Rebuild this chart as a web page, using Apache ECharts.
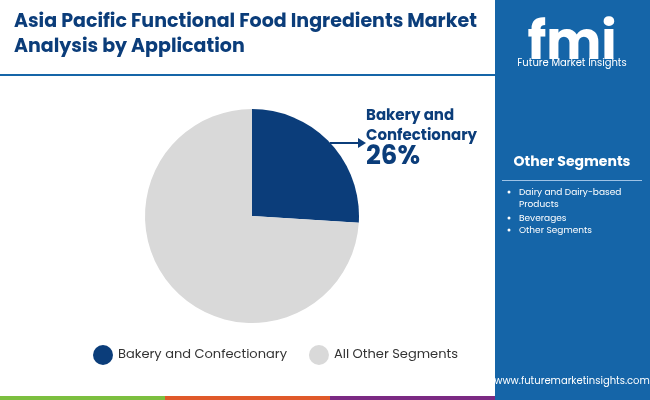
<!DOCTYPE html>
<html>
<head>
<meta charset="utf-8">
<script src="https://cdn.jsdelivr.net/npm/echarts@6/dist/echarts.min.js"></script>
<style>body{margin:0}#c{width:650px;height:400px}</style>
</head>
<body>
<div id="c"></div>
<script>
var categories = ['Bakery and Confectionary', 'All Other Segments'];
var shares = [26, 74];
var colors = ['#0b3d7a', '#d9d9d9'];
var otherSegments = ['Dairy and Dairy-based\nProducts', 'Beverages', 'Other Segments'];

var chart = echarts.init(document.getElementById('c'));
var F = 'Poppins, Roboto, sans-serif';
var gfx = [
    {type: 'rect', shape: {x: 495, y: 0, width: 155, height: 400}, style: {fill: '#1565a8'}, z: 0},
    {type: 'rect', shape: {x: 0, y: 74, width: 495, height: 2}, style: {fill: '#1565a8'}},
    {type: 'rect', shape: {x: 0, y: 396, width: 165, height: 4}, style: {fill: '#7cbf3f'}},
    {type: 'rect', shape: {x: 165, y: 396, width: 165, height: 4}, style: {fill: '#e0592a'}},
    {type: 'rect', shape: {x: 330, y: 396, width: 165, height: 4}, style: {fill: '#7b2a83'}},
    {type: 'text', left: 14, top: 10, style: {text: 'Asia Pacific Functional Food Ingredients Market\nAnalysis by Application', font: 'bold 19px ' + F, fill: '#0b3d7a', lineHeight: 25}},
    {type: 'text', x: 572, y: 20, style: {text: 'fmi', font: 'bold 52px ' + F, fill: '#ffffff', align: 'center'}},
    {type: 'text', x: 572, y: 58, style: {text: 'Future Market Insights', font: '10px ' + F, fill: '#ffffff', align: 'center'}},
    {type: 'text', x: 572, y: 155, style: {text: 'Other Segments', font: 'bold 14px ' + F, fill: '#ffffff', align: 'center'}},
    {type: 'rect', shape: {x: 502, y: 180, width: 140, height: 1}, style: {fill: '#9ec3e6'}},
    {type: 'text', x: 572, y: 376, style: {text: 'www.futuremarketinsights.com', font: '10px ' + F, fill: '#ffffff', align: 'center'}},
    {type: 'line', shape: {x1: 330, y1: 143, x2: 360, y2: 143}, style: {stroke: '#0b3d7a', lineWidth: 2}},
    {type: 'polygon', shape: {points: [[366, 143], [358, 138], [358, 148]]}, style: {fill: '#0b3d7a'}},
    {type: 'text', x: 366, y: 106, style: {text: 'Bakery and\nConfectionary', font: 'bold 15px ' + F, fill: '#0b3d7a', lineHeight: 20}},
    {type: 'text', x: 366, y: 144, style: {text: shares[0] + '%', font: 'bold 26px ' + F, fill: '#0b3d7a'}}
];
var ys = [187, 213, 225];
otherSegments.forEach(function (s, i) {
    gfx.push({type: 'circle', shape: {cx: 509, cy: ys[i] + 5, r: 1.5}, style: {fill: '#ffffff'}});
    gfx.push({type: 'text', x: 519, y: ys[i], style: {text: s, font: '9px ' + F, fill: '#ffffff', lineHeight: 12}});
});

chart.setOption({
    animation: false,
    color: colors,
    legend: {
        bottom: 30, left: 88, itemWidth: 20, itemHeight: 20, itemGap: 22, icon: 'circle',
        textStyle: {fontSize: 13, color: '#333', fontFamily: F},
        data: categories
    },
    graphic: gfx,
    series: [{
        type: 'pie', center: [252, 216], radius: 107, startAngle: 90, clockwise: true,
        label: {show: false}, labelLine: {show: false},
        itemStyle: {borderColor: '#fff', borderWidth: 0},
        data: categories.map(function (c, i) { return {name: c, value: shares[i]}; })
    }]
});
</script>
</body>
</html>
